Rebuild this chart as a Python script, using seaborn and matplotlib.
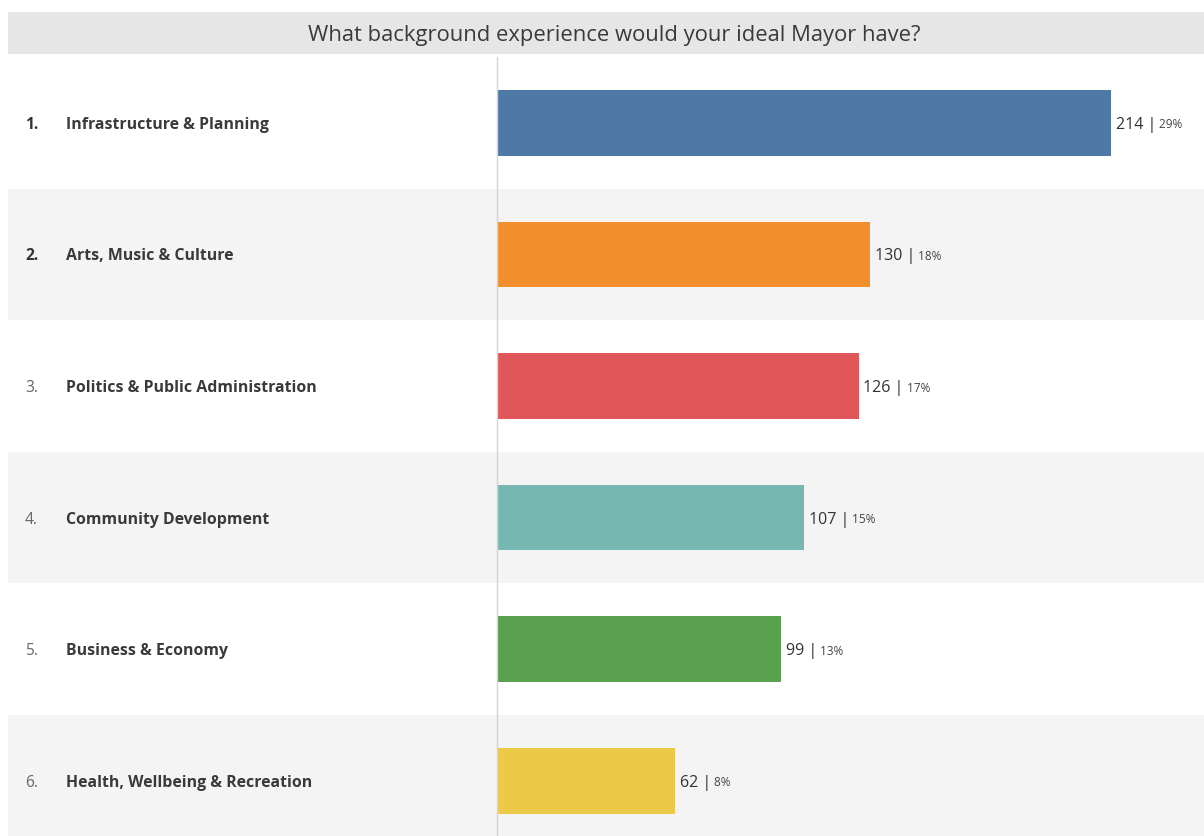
import matplotlib
matplotlib.use("Agg")
import matplotlib.pyplot as plt
from matplotlib.patches import Rectangle
import seaborn as sns
import pandas as pd

categories = [
    "Infrastructure & Planning",
    "Arts, Music & Culture",
    "Politics & Public Administration",
    "Community Development",
    "Business & Economy",
    "Health, Wellbeing & Recreation",
]
ranks = ["1.", "2.", "3.", "4.", "5.", "6."]
counts = [214, 130, 126, 107, 99, 62]
percents = [29, 18, 17, 15, 13, 8]
colors = ["#4e79a7", "#f28e2b", "#e15759", "#76b7b2", "#59a14f", "#edc948"]
title = "What background experience would your ideal Mayor have?"

df = pd.DataFrame({"category": categories, "count": counts})

sns.set_theme(style="white")
plt.rcParams["font.family"] = ["Open Sans", "DejaVu Sans"]

W, H = 1204, 836
fig = plt.figure(figsize=(W / 100, H / 100), dpi=100)
fig.patch.set_facecolor("white")

# title band
fig.patches.append(Rectangle((8 / W, 1 - 54 / H), 1 - 8 / W, 42 / H,
                             transform=fig.transFigure, facecolor="#e6e6e6",
                             edgecolor="none", zorder=0))
fig.text(614 / W, 1 - 35 / H, title, ha="center", va="center",
         fontsize=15.8, color="#3a3a3a")

ax = fig.add_axes([8 / W, 0, 1 - 8 / W, 1 - 57 / H])
ax.set_facecolor("white")

# alternating row bands
for i in range(len(categories)):
    ax.axhspan(i - 0.5, i + 0.5, color="white" if i % 2 == 0 else "#f4f4f4",
               zorder=0, lw=0)

sns.barplot(data=df, x="count", y="category", hue="category", palette=colors,
            orient="h", width=0.5, legend=False, ax=ax, saturation=1,
            linewidth=0, edgecolor="none", zorder=2)

px = (1111 - 497) / 214.0
ax.set_xlim(-(497 - 8) / px, (W - 497) / px)
ax.set_ylim(-0.5 + (H - 57) / 131.6, -0.5)
ax.axvline(0, color="#d4d4d4", lw=1, zorder=3)

for s in ax.spines.values():
    s.set_visible(False)
ax.set_xticks([])
ax.set_yticks([])
ax.set_xlabel("")
ax.set_ylabel("")

trans = ax.get_yaxis_transform()
for i, (r, c) in enumerate(zip(ranks, categories)):
    bold = i < 2
    ax.text(17 / (W - 8), i + 0.015, r, transform=trans, ha="left",
            va="center", fontsize=11.2,
            fontweight="bold" if bold else "normal",
            color="#333333" if bold else "#666666")
    ax.text(58 / (W - 8), i + 0.015, c, transform=trans, ha="left",
            va="center", fontsize=11.4, fontweight="bold", color="#3a3a3a")

for i, (n, p) in enumerate(zip(counts, percents)):
    t1 = ax.annotate(f"{n} |", xy=(n, i), xytext=(3.5, -1.5),
                     textcoords="offset points", ha="left", va="center",
                     fontsize=11.5, color="#333333")
    ax.annotate(f" {p}%", xy=(1, 0.5), xycoords=t1, ha="left", va="center",
                fontsize=8.5, color="#444444")

fig.savefig("out.png", dpi=100)
